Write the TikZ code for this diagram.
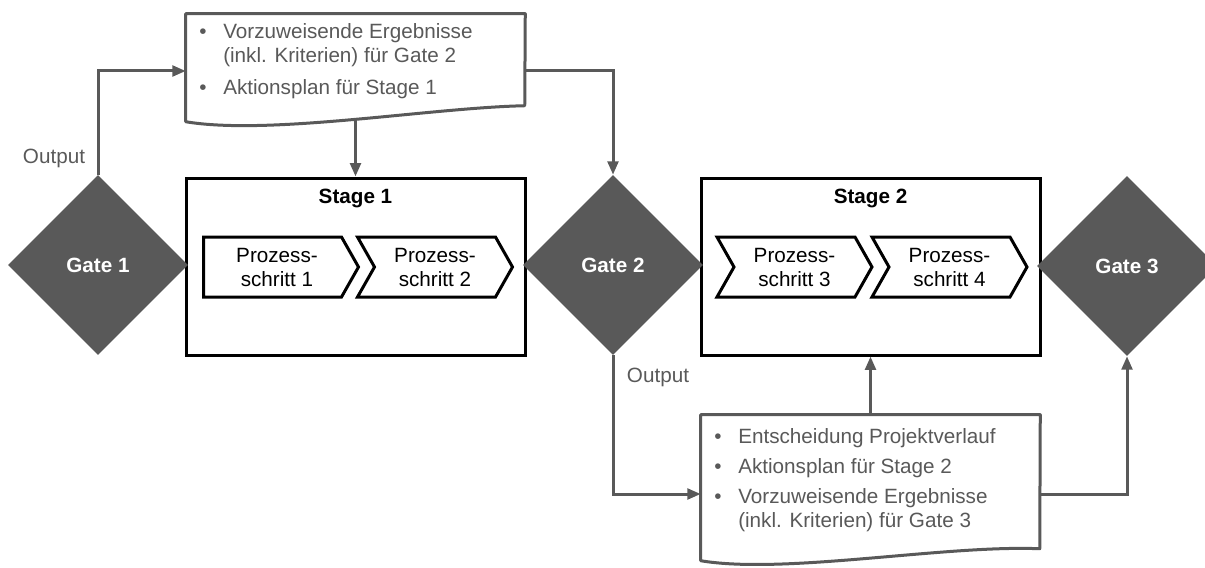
\documentclass[tikz,border=0pt]{standalone}
\usepackage{fontspec}
\setmainfont{Liberation Sans}
\usepackage{tikz}
\usetikzlibrary{shapes.geometric, % Rauten
           arrows.meta,
           calc}
\definecolor{grau}{RGB}{89,89,89}

\tikzset{
  gate/.style={diamond, fill=grau, text=white, font=\fontsize{15.5}{18}\selectfont\bfseries,
               minimum width=135pt, minimum height=135pt, inner sep=0pt},
  stagebox/.style={draw=black, line width=2.25pt, fill=white,
               minimum width=254.25pt, minimum height=132.75pt},
  stagetitle/.style={font=\fontsize{15.5}{18}\selectfont\bfseries},
  schritt/.style={align=center, inner sep=0pt},
  chevline/.style={draw=black, line width=2.25pt, fill=white, line join=miter},
  docbox/.style={minimum width=254.25pt, inner sep=0pt},
  docline/.style={draw=grau, line width=2.25pt, fill=white, line join=round},
  doctext/.style={text=grau, inner sep=0pt, anchor=base west},
  outlbl/.style={text=grau},
  flow/.style={draw=grau, line width=2.25pt, -{Triangle[length=10pt,width=8pt]}},
}

% Pfeilform um einen Prozessschritt, #2 = Tiefe der Kerbe links
\newcommand{\schrittform}[2]{%
  \draw[chevline] ($(#1)+(-77.5,-30)$) -- ($(#1)+(60.5,-30)$) -- ($(#1)+(77.5,0)$)
    -- ($(#1)+(60.5,30)$) -- ($(#1)+(-77.5,30)$) -- ($(#1)+(-77.5+#2,0)$) -- cycle;}

\begin{document}
\begin{tikzpicture}[x=0.75pt, y=-0.75pt, font=\fontsize{15.5}{18}\selectfont]
\useasboundingbox (0,0) rectangle (1205,567);

% Stages mit Prozessschritten
\node[stagebox] (stage1) at (355.5,266.5) {};
\node[stagebox] (stage2) at (870.5,266.5) {};
\node[stagetitle] (title1) at (355.5,198) {Stage 1};
\node[stagetitle] (title2) at (870.5,198) {Stage 2};

\coordinate (ps1) at (281,267);
\coordinate (ps2) at (435,267);
\coordinate (ps3) at (794.5,267);
\coordinate (ps4) at (949.5,267);
\schrittform{ps1}{0}
\schrittform{ps2}{17}
\schrittform{ps3}{17}
\schrittform{ps4}{17}
\node[schritt] (ps1txt) at ($(ps1)+(-4,0)$) {Prozess-\\schritt 1};
\node[schritt] (ps2txt) at (ps2) {Prozess-\\schritt 2};
\node[schritt] (ps3txt) at (ps3) {Prozess-\\schritt 3};
\node[schritt] (ps4txt) at (ps4) {Prozess-\\schritt 4};

% Gates
\node[gate] (gate1) at (98,265) {Gate 1};
\node[gate] (gate2) at (613,265) {Gate 2};
\node[gate] (gate3) at (1127,266) {Gate 3};

% Dokumente (Output der Gates)
\node[docbox, minimum height=85.5pt] (plan1) at (355.5,71) {};
\node[docbox, minimum height=118.5pt] (plan2) at (870.5,494) {};

\node[outlbl] (out1) at (54,158) {Output};
\node[outlbl] (out2) at (658,377) {Output};

% Verbindungen
\draw[flow] (gate1.north) |- (plan1.west);
\draw[flow] (plan1.center) -- (stage1.north);
\draw[flow] (plan1.east) -| (gate2.north);
\draw[flow] (gate2.south) |- (plan2.west);
\draw[flow] (plan2.center) -- (stage2.south);
\draw[flow] (plan2.east) -| (gate3.south);

% Dokumentform mit gewelltem Rand
\draw[docline] (plan1.north west) -- (plan1.north east)
    -- ($(plan1.north west)+(339,92)$)
    .. controls ($(plan1.north west)+(244,94)$) and ($(plan1.north west)+(84,122)$)
    .. ($(plan1.north west)+(0,108)$) -- cycle;
\draw[docline] (plan2.north west) -- (plan2.north east)
    -- ($(plan2.north west)+(339,134)$)
    .. controls ($(plan2.north west)+(244,130)$) and ($(plan2.north west)+(84,160)$)
    .. ($(plan2.north west)+(0,146)$) -- cycle;

\node[doctext] (plan1txt) at (199,39) {%
  \begin{tabular}[t]{@{}p{18pt}@{}l@{}}
  \textbullet & Vorzuweisende Ergebnisse\\
              & (inkl. Kriterien) für Gate 2\\[6pt]
  \textbullet & Aktionsplan für Stage 1
  \end{tabular}};
\node[doctext] (plan2txt) at (714,443) {%
  \begin{tabular}[t]{@{}p{18pt}@{}l@{}}
  \textbullet & Entscheidung Projektverlauf\\[4.5pt]
  \textbullet & Aktionsplan für Stage 2\\[4.5pt]
  \textbullet & Vorzuweisende Ergebnisse\\
              & (inkl. Kriterien) für Gate 3
  \end{tabular}};
\end{tikzpicture}
\end{document}
